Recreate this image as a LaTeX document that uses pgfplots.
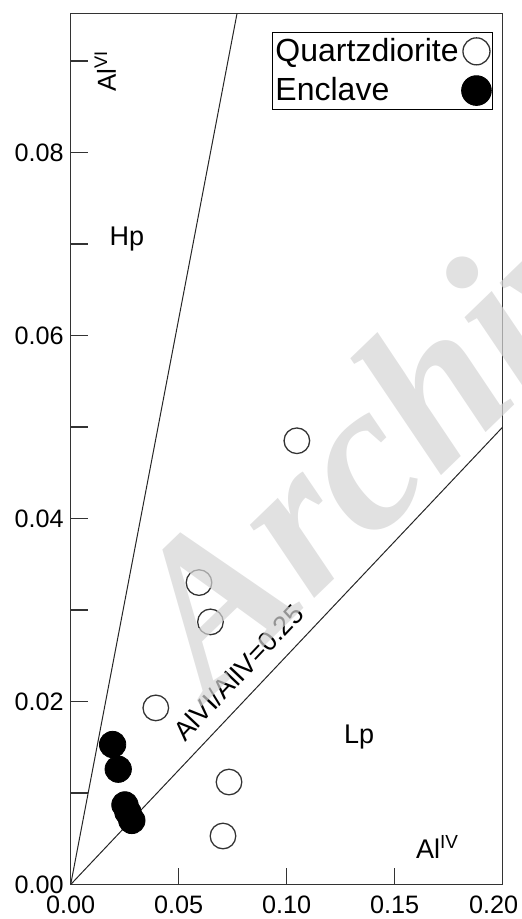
\documentclass[border=0pt]{standalone}
\usepackage{pgfplots}
\pgfplotsset{compat=1.18}
\usepackage{fontspec}
\setmainfont{Liberation Sans}
\newfontfamily\wmfont{Liberation Serif}

% legend cell: a single mark of the given size, right of the text
\pgfplotsset{
  markcell/.style={legend image code/.code={%
    \path (0pt,0pt) (13pt,0pt);
    \draw[##1, mark size=#1] plot coordinates {(6.5pt,0pt)};}},
}

% Quartzdiorite (open circles): Al(IV)  Al(VI)
\pgfplotstableread{
x       y
0.1047  0.0485
0.0594  0.0330
0.0647  0.0287
0.0394  0.0193
0.0733  0.0112
0.0705  0.0053
}\quartzdiorite

% Enclave (filled circles)
\pgfplotstableread{
x       y
0.0194  0.0153
0.0220  0.0126
0.0251  0.0087
0.0265  0.0079
0.0283  0.0070
}\enclave

\begin{document}
\begin{tikzpicture}
\path[use as bounding box] (-35.35pt,-17.25pt) rectangle (225.65pt,442.25pt);
\begin{axis}[
  scale only axis, width=216pt, height=435.5pt,
  xmin=0, xmax=0.2, ymin=0, ymax=0.0952,
  axis line style={line width=0.75pt, black!80},
  tick align=inside, tick pos=left,
  major tick length=8.5pt, minor tick length=8.5pt,
  every tick/.style={line width=0.75pt, black!80},
  xtick={0,0.05,0.1,0.15,0.2},
  xticklabels={0.00,0.05,0.10,0.15,{\hspace*{-9pt}0.20}},
  ytick={0,0.02,0.04,0.06,0.08},
  yticklabels={0.00,0.02,0.04,0.06,0.08},
  minor ytick={0.01,0.03,0.05,0.07,0.09},
  ticklabel style={font=\fontsize{12.6}{14}\selectfont},
  xticklabel style={yshift=-2pt},
  legend style={at={(0.977,0.979)}, anchor=north east, draw=black,
    line width=0.5pt, inner xsep=0.5pt, inner ysep=2pt,
    font=\fontsize{16}{18}\selectfont, row sep=4.5pt, column sep=0.5pt,
    nodes={inner sep=1pt}},
  legend plot pos=right, legend cell align=left,
]
% discrimination lines through the origin
\addplot[forget plot, no marks, line width=0.5pt, black!85] coordinates {(0,0) (0.0770,0.0952)};
\addplot[forget plot, no marks, line width=0.5pt, black!85] coordinates {(0,0) (0.2,0.05)};

\addplot[only marks, mark=o, mark size=6.4pt,
  mark options={draw=black!80, line width=0.65pt, fill=white}, markcell=6.75pt]
  table[x=x, y=y] {\quartzdiorite};
\addlegendentry{Quartzdiorite}

\addplot[only marks, mark=*, mark size=6.6pt, mark options={draw=black, fill=black},
  markcell=7.4pt]
  table[x=x, y=y] {\enclave};
\addlegendentry{Enclave}

\node[rotate=90, font=\fontsize{13}{15}\selectfont] at (axis cs:0.0160,0.0889) {Al\textsuperscript{VI}};
\node[font=\fontsize{13.5}{15}\selectfont] at (axis cs:0.026,0.0705) {Hp};
\node[font=\fontsize{13.5}{15}\selectfont] at (axis cs:0.1335,0.0161) {Lp};
\node[font=\fontsize{13.5}{15}\selectfont] at (axis cs:0.1698,0.0041) {Al\textsuperscript{IV}};
\node[rotate=46.6, font=\fontsize{13.5}{15}\selectfont] at (axis cs:0.0777,0.0232) {AlVI/AlIV=0.25};
\end{axis}
% archive watermark laid over the plot
\node[rotate=44, anchor=base west, text=black!17, opacity=0.7,
  font=\wmfont\bfseries\itshape\fontsize{106}{106}\selectfont]
  at (67pt,90pt) {Archive of SID};
\end{tikzpicture}
\end{document}
